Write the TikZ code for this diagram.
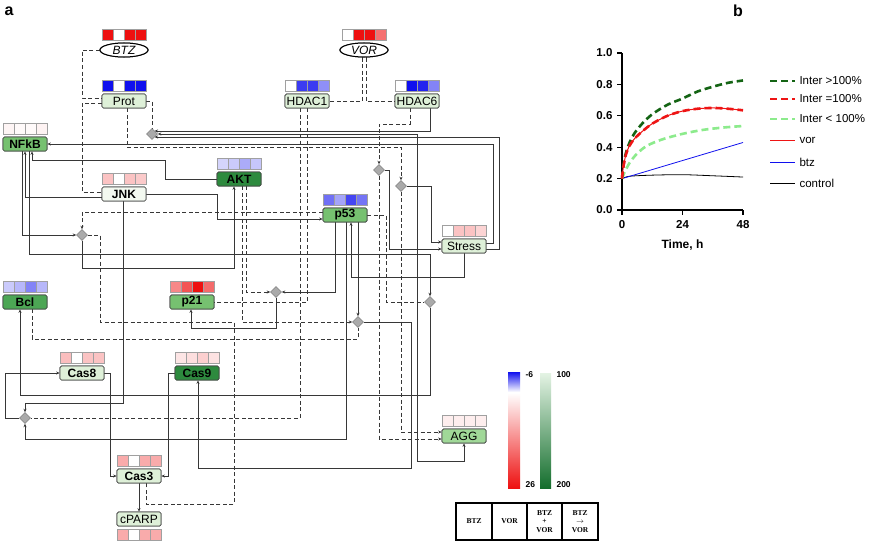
\documentclass[tikz,border=0pt]{standalone}
\usepackage{fontspec}
\setmainfont{Liberation Sans}
\newfontfamily\serf{Liberation Serif}
\usetikzlibrary{shapes.geometric,arrows.meta,calc}
\definecolor{hr}{RGB}{238,16,16}
\definecolor{hb}{RGB}{16,16,238}
\definecolor{hw}{RGB}{255,255,255}
\definecolor{cellb}{RGB}{160,160,160}
\definecolor{boxb}{RGB}{70,70,70}
\definecolor{lineg}{RGB}{55,55,55}
\definecolor{dgray}{RGB}{170,170,170}
\definecolor{dgrayb}{RGB}{130,130,130}
\definecolor{cdark}{RGB}{45,138,62}
\definecolor{cmdark}{RGB}{76,166,84}
\definecolor{cmed}{RGB}{118,193,112}
\definecolor{cagg}{RGB}{160,216,152}
\definecolor{clight}{RGB}{222,240,216}
\definecolor{cjnk}{RGB}{243,249,240}
\definecolor{gtop}{RGB}{228,243,228}
\definecolor{gbot}{RGB}{20,110,45}
\definecolor{igreen}{RGB}{20,100,20}
\definecolor{lgreen}{RGB}{140,235,140}
\definecolor{ired}{RGB}{238,20,20}
\newcommand{\heatrow}[6]{%
  \foreach \ci/\cc in {0/#3,1/#4,2/#5,3/#6}{%
    \filldraw[fill=\cc, draw=cellb, line width=0.5pt] ({#1+11*\ci},#2) rectangle ++(11,11);}%
}
\tikzset{
  gbox/.style={draw=boxb, rounded corners=1.5pt, minimum width=44pt, minimum height=14pt,
    inner sep=0pt, line width=0.7pt, font=\fontsize{12}{12}\selectfont},
  bbox/.style={gbox, font=\fontsize{12}{12}\selectfont\bfseries},
  dmd/.style={diamond, fill=dgray, draw=dgrayb, line width=0.4pt, minimum width=11pt,
    minimum height=11pt, inner sep=0pt},
  con/.style={draw=lineg, line width=0.85pt},
  arr/.style={con, -{Stealth[length=3.5pt,width=3pt]}},
  dsh/.style={con, dash pattern=on 4pt off 2.5pt},
  darr/.style={dsh, -{Stealth[length=3.5pt,width=3pt]}},
  drug/.style={ellipse, draw=black, line width=1pt, minimum width=48pt, minimum height=14pt,
    inner sep=0pt, font=\fontsize{12}{12}\selectfont\itshape},
  tick/.style={font=\fontsize{11.5}{11.5}\selectfont\bfseries},
  leg/.style={anchor=west, font=\fontsize{11.5}{11.5}\selectfont},
  tabt/.style={font=\serf\bfseries\fontsize{7.5}{8.5}\selectfont, align=center},
  cbl/.style={anchor=west, font=\fontsize{8.5}{8.5}\selectfont\bfseries},
}
\begin{document}
\begin{tikzpicture}[x=1pt,y=-1pt]
\useasboundingbox (0,0) rectangle (869,543);
\fill[white] (0,0) rectangle (869,543);

% panel labels
\node[font=\fontsize{16}{16}\selectfont\bfseries] (la) at (9,11) {a};
\node[font=\fontsize{16}{16}\selectfont\bfseries] (lb) at (738,11) {b};

% ---------------- nodes (names) ----------------
\node[drug] (btz) at (124,50) {BTZ};
\node[drug] (vor) at (364,50) {VOR};
\node[gbox, fill=clight] (prot) at (124,101) {Prot};
\node[gbox, fill=clight] (hdac1) at (307,101) {HDAC1};
\node[gbox, fill=clight] (hdac6) at (417,101) {HDAC6};
\node[bbox, fill=cmed] (nfkb) at (25,144) {NFkB};
\node[bbox, fill=cdark] (akt) at (239,179) {AKT};
\node[bbox, fill=cjnk] (jnk) at (124,194) {JNK};
\node[bbox, fill=cmed] (p53) at (345,215) {p53};
\node[gbox, fill=clight] (stress) at (464,246) {Stress};
\node[bbox, fill=cmdark] (bcl) at (25,302) {Bcl};
\node[bbox, fill=cmed] (p21) at (192,302) {p21};
\node[bbox, fill=clight] (cas8) at (82,373) {Cas8};
\node[bbox, fill=cdark] (cas9) at (197,373) {Cas9};
\node[gbox, fill=cagg] (agg) at (464,436) {AGG};
\node[bbox, fill=clight] (cas3) at (139,476) {Cas3};
\node[gbox, fill=clight] (cparp) at (139,519) {cPARP};
\node[dmd] (d1) at (152,134) {};
\node[dmd] (d2) at (379,170) {};
\node[dmd] (d3) at (401,186) {};
\node[dmd] (d4) at (82,235) {};
\node[dmd] (d5) at (276,292) {};
\node[dmd] (d6) at (430,302) {};
\node[dmd] (d7) at (358,322) {};
\node[dmd] (d8) at (25,418) {};

% ---------------- connectors ----------------
\draw[dsh] (btz.west) -- (82,50) -- (82,98) -- ($(prot.west)+(0,-3)$);
\draw[dsh] ($(prot.west)+(0,2)$) -- (82,103) -- (82,192) -- ($(jnk.west)+(0,-2)$);
\draw[dsh] (prot.east) -- (152,101) -- (d1.north);
\draw[darr] ($(prot.south)+(3,0)$) -- (127,147) -- (401,147) -- (d3.north);
\draw[dsh] ($(vor.south)+(-2,0)$) -- (362,101) -- (hdac1.east);
\draw[dsh] ($(vor.south)+(2,0)$) -- (366,101) -- (hdac6.west);
\draw[arr] ($(hdac6.south)+(13,0)$) -- (430,131) -- ($(d1.center)+(2.5,-3)$);
\draw[con, {Stealth[length=3.5pt,width=3pt]}-{Stealth[length=3.5pt,width=3pt]}]
  (d1.east) -- (417,134) -- (417,461) -- (464,461) -- (agg.south);
\draw[arr] ($(stress.east)+(0,3)$) -- (499,249) -- (499,137) -- ($(d1.center)+(2.5,3)$);
\draw[arr] ($(stress.east)+(0,-3)$) -- (493,243) -- (493,144) -- (nfkb.east);
\draw[arr] (akt.west) -- (165,179) -- (165,160) -- (32,160) -- ($(nfkb.south)+(7,0)$);
\draw[arr] ($(jnk.west)+(0,3)$) -- (25,197) -- (nfkb.south);
\draw[arr] ($(nfkb.south)+(-3,0)$) -- (22,235) -- (d4.west);
\draw[arr] ($(nfkb.south)+(4,0)$) -- (29,254) -- (430,254) -- (d6.north);
\draw[arr] (jnk.east) -- (217,194) -- (217,219) -- ($(p53.west)+(0,4)$);
\draw[darr] ($(p53.west)+(0,-3)$) -- (82,212) -- (d4.north);
\draw[arr] (d4.south) -- (82,268) -- (234,268) -- ($(akt.south)+(-5,0)$);
\draw[dsh] (d4.east) -- (100,235) -- (100,322) -- (234,322) -- (234,504) -- (146,504) -- ($(cas3.south)+(7,0)$);
\draw[darr] ($(akt.south)+(3,0)$) -- (242,322) -- (d7.west);
\draw[darr] ($(akt.south)+(7,0)$) -- (246,292) -- (d5.west);
\draw[arr] ($(p53.south)+(-10,0)$) -- (335,292) -- (d5.east);
\draw[arr] (d5.south) -- (276,328) -- (191,328) -- ($(p21.south)+(-1,0)$);
\draw[dsh] (hdac1.south) -- (307,302) -- (p21.east);
\draw[dsh] ($(hdac1.south)+(-7,0)$) -- (300,418) -- (d8.east);
\draw[arr] ($(p53.south)+(1,0)$) -- (346,439) -- (25,439) -- (d8.south);
\draw[arr] (stress.south) -- (464,277) -- (351,277) -- ($(p53.south)+(6,0)$);
\draw[arr] ($(p53.south)+(13,0)$) -- (d7.north);
\draw[dsh] (p53.east) -- (386,215) -- (386,302) -- (d6.west);
\draw[darr] ($(hdac6.south)+(-7,0)$) -- (410,124) -- (379,124) -- (d2.north);
\draw[arr] (d2.east) -- (389,170) -- (389,249) -- ($(stress.west)+(0,3)$);
\draw[arr] (d3.east) -- (431,186) -- (431,242) -- ($(stress.west)+(0,-4)$);
\draw[darr] (d2.south) -- (379,439) -- ($(agg.west)+(0,3)$);
\draw[darr] (d3.south) -- (401,432) -- ($(agg.west)+(0,-4)$);
\draw[arr] (d6.south) -- (430,395) -- (20,395) -- ($(bcl.south)+(-5,0)$);
\draw[dsh] ($(bcl.south)+(7,0)$) -- (32,339) -- (358,339) -- (d7.south);
\draw[arr] (d7.east) -- (411,322) -- (411,468) -- (198,468) -- ($(cas9.south)+(1,0)$);
\draw[arr] ($(jnk.south)+(-1,0)$) -- (123,403) -- (25,403) -- (d8.north);
\draw[arr] (d8.west) -- (5,418) -- (5,373) -- (cas8.west);
\draw[arr] (cas8.east) -- (110,373) -- (110,476) -- (cas3.west);
\draw[arr] (cas9.west) -- (168,373) -- (168,476) -- (cas3.east);
\draw[arr] (cas3.south) -- (cparp.north);

% redraw nodes on top of lines
\node[drug, fill=white] at (btz) {BTZ};
\node[drug, fill=white] at (vor) {VOR};
\node[gbox, fill=clight] at (prot) {Prot};
\node[gbox, fill=clight] at (hdac1) {HDAC1};
\node[gbox, fill=clight] at (hdac6) {HDAC6};
\node[bbox, fill=cmed] at (nfkb) {NFkB};
\node[bbox, fill=cdark] at (akt) {AKT};
\node[bbox, fill=cjnk] at (jnk) {JNK};
\node[bbox, fill=cmed] at (p53) {p53};
\node[gbox, fill=clight] at (stress) {Stress};
\node[bbox, fill=cmdark] at (bcl) {Bcl};
\node[bbox, fill=cmed] at (p21) {p21};
\node[bbox, fill=clight] at (cas8) {Cas8};
\node[bbox, fill=cdark] at (cas9) {Cas9};
\node[gbox, fill=cagg] at (agg) {AGG};
\node[bbox, fill=clight] at (cas3) {Cas3};
\node[gbox, fill=clight] at (cparp) {cPARP};
\foreach \d in {d1,d2,d3,d4,d5,d6,d7,d8} \node[dmd] at (\d) {};

% heat rows
\heatrow{102}{29}{hr}{hw}{hr}{hr}
\heatrow{342}{29}{hw}{hr}{hr}{hr!60}
\heatrow{102}{80}{hb}{hw}{hb}{hb}
\heatrow{285}{80}{hw}{hb!82}{hb!82}{hb!47}
\heatrow{395}{80}{hw}{hb}{hb!92}{hb!52}
\heatrow{3}{123}{hr!4}{hr!2}{hr!2}{hr!5}
\heatrow{217}{158}{hb!18}{hb!22}{hb!35}{hb!24}
\heatrow{102}{173}{hr!25}{hw}{hr!25}{hr!22}
\heatrow{323}{194}{hb!60}{hb!38}{hb!78}{hb!58}
\heatrow{442}{225}{hw}{hr!25}{hr!25}{hr!18}
\heatrow{3}{281}{hb!22}{hb!30}{hb!52}{hb!30}
\heatrow{170}{281}{hr!50}{hr!72}{hr!100}{hr!62}
\heatrow{60}{352}{hr!27}{hw}{hr!25}{hr!25}
\heatrow{175}{352}{hr!11}{hr!14}{hr!20}{hr!12}
\heatrow{442}{415}{hr!7}{hr!7}{hr!7}{hr!7}
\heatrow{117}{455}{hr!35}{hw}{hr!35}{hr!35}
\heatrow{117}{529}{hr!35}{hw}{hr!35}{hr!35}

% colour bars
\shade[top color=hb, bottom color=white] (508,372) rectangle (520,392);
\shade[top color=white, bottom color=hr] (508,393) rectangle (520,488);
\shade[top color=gtop, bottom color=gbot] (540,373) rectangle (551,488);
\node[cbl] (cb1) at (522,375) {-6};
\node[cbl] (cb2) at (522,485) {26};
\node[cbl] (cb3) at (553,375) {100};
\node[cbl] (cb4) at (553,485) {200};

% table
\draw[line width=1.6pt] (456,503) rectangle (598,540);
\foreach \xx in {492,527,562} \draw[line width=1.2pt] (\xx,503) -- (\xx,540);
\node[tabt] (t1) at (474,521.5) {BTZ};
\node[tabt] (t2) at (509.5,521.5) {VOR};
\node[tabt] (t3) at (544.5,521.5) {BTZ\\+\\VOR};
\node[tabt] (t4) at (580,521.5) {BTZ\\$\rightarrow$\\VOR};

% ---------------- panel b ----------------
\begin{scope}[shift={(622,210)}, x=2.521pt, y=157pt]
  \draw[line width=1.4pt] (0,1) -- (0,0) -- (48,0);
  \foreach \v/\lab in {0/0.0,0.2/0.2,0.4/0.4,0.6/0.6,0.8/0.8,1/1.0} {
    \draw[line width=1.2pt] (0,\v) -- (-1.8,\v);
    \node[tick, anchor=east] at (-2.4,\v) {\lab};
  }
  \foreach \t in {0,24,48} {
    \draw[line width=1.2pt] (\t,0) -- (\t,-0.03);
    \node[tick, anchor=north] at (\t,-0.045) {\t};
  }
  \node[font=\fontsize{12}{12}\selectfont\bfseries] (xl) at (24,-0.225) {Time, h};
  \draw[black, line width=0.8pt] plot[smooth] coordinates {(0,0.2)(3,0.215)(12,0.222)(24,0.225)(36,0.218)(48,0.21)};
  \draw[hb, line width=0.8pt] (0,0.2) -- (48,0.43);
  \draw[lgreen, line width=2.6pt, dash pattern=on 7pt off 4pt] plot[smooth] coordinates
    {(0,0.2)(1,0.24)(3,0.3)(6,0.36)(10,0.41)(16,0.45)(24,0.485)(32,0.51)(40,0.525)(48,0.535)};
  \draw[igreen, line width=2.6pt, dash pattern=on 7pt off 4pt] plot[smooth] coordinates
    {(0,0.2)(0.5,0.28)(1.5,0.36)(3,0.43)(5,0.49)(8,0.55)(12,0.61)(18,0.67)(24,0.71)(30,0.755)(36,0.785)(42,0.81)(48,0.825)};
  \draw[ired, line width=2.6pt, dash pattern=on 7pt off 4pt] plot[smooth] coordinates
    {(0,0.2)(0.5,0.27)(1.5,0.35)(3,0.41)(5,0.455)(8,0.5)(12,0.55)(18,0.6)(24,0.63)(30,0.645)(36,0.65)(42,0.645)(48,0.635)};
  \draw[ired, line width=1pt] plot[smooth] coordinates
    {(0,0.2)(0.5,0.27)(1.5,0.35)(3,0.41)(5,0.455)(8,0.5)(12,0.55)(18,0.6)(24,0.63)(30,0.645)(36,0.65)(42,0.645)(48,0.635)};
\end{scope}
% legend of b
\draw[igreen, line width=2.6pt, dash pattern=on 7pt off 4pt] (770,81) -- (795,81);
\draw[ired, line width=2.6pt, dash pattern=on 7pt off 4pt] (770,99) -- (795,99);
\draw[lgreen, line width=2.6pt, dash pattern=on 7pt off 4pt] (770,119) -- (795,119);
\draw[ired, line width=1pt] (770,140) -- (795,140);
\draw[hb, line width=1pt] (770,162) -- (795,162);
\draw[black, line width=1pt] (770,183) -- (795,183);
\node[leg] (l1) at (796,81) {Inter >100\%};
\node[leg] (l2) at (796,99) {Inter =100\%};
\node[leg] (l3) at (796,119) {Inter < 100\%};
\node[leg] (l4) at (796,140) {vor};
\node[leg] (l5) at (796,162) {btz};
\node[leg] (l6) at (796,183) {control};
\end{tikzpicture}
\end{document}
